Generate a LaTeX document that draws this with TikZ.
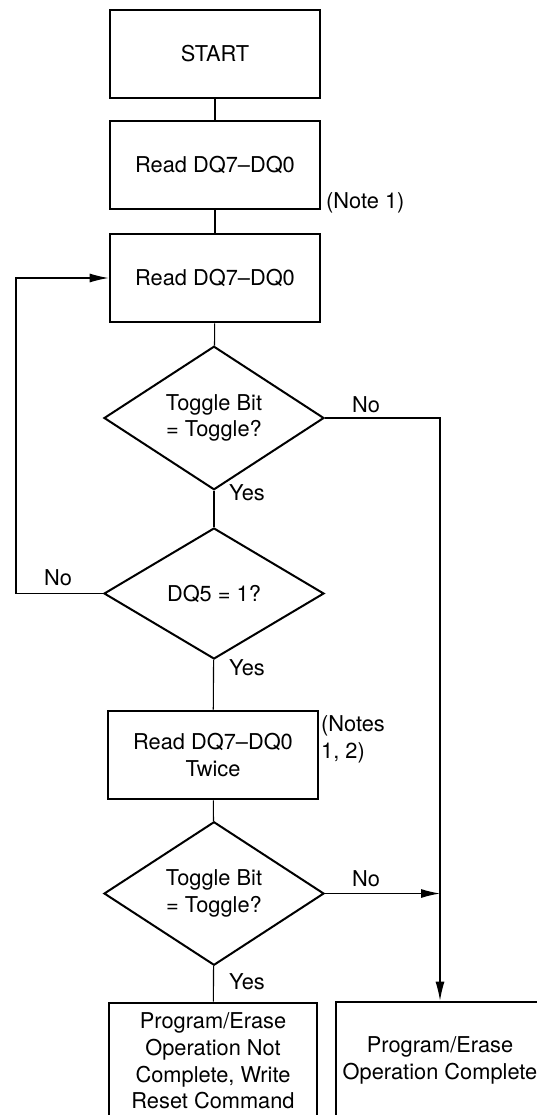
\documentclass[tikz,border=0pt]{standalone}
\usepackage{fontspec}
\setmainfont{TeX Gyre Heros}
\usetikzlibrary{shapes.geometric,arrows.meta}
\begin{document}
\begin{tikzpicture}[x=1pt,y=-1pt,
  font=\fontsize{21.8}{26.7}\selectfont,
  box/.style={draw,line width=2.8pt,minimum width=210pt,minimum height=88pt,inner sep=0pt,align=center},
  dec/.style={draw,diamond,line width=2pt,minimum width=220pt,minimum height=131pt,inner sep=0pt,align=center},
  conn/.style={line width=1.1pt},
  arr/.style={conn,-{Latex[length=19pt,width=9pt]}},
  lbl/.style={inner sep=0pt}]
\useasboundingbox (0,0) rectangle (536,1115);
\node[box] (start) at (215,54) {START};
\node[box] (r1) at (215,165) {Read DQ7--DQ0};
\node[box] (r2) at (215,278) {Read DQ7--DQ0};
\node[dec] (d1) at (214,418) {Toggle Bit\\= Toggle?};
\node[dec] (d2) at (214,593.5) {DQ5 = 1?};
\node[box] (r3) at (213,755) {Read DQ7--DQ0\\Twice};
\node[dec] (d3) at (214,893.5) {Toggle Bit\\= Toggle?};
\node[box,minimum width=208pt,minimum height=116pt] (notdone) at (213,1061) {Program/Erase\\Operation Not\\Complete, Write\\Reset Command};
\node[box,minimum width=208pt,minimum height=117pt] (done) at (440,1060.5) {Program/Erase\\Operation Complete};
\node[lbl,anchor=west] (n1) at (326,203) {(Note 1)};
\node[lbl,anchor=west,align=left] (n2) at (321,739.5) {(Notes\\1, 2)};
\node[lbl] (no1) at (366,405) {No};
\node[lbl] (no2) at (58,578) {No};
\node[lbl] (no3) at (366,879) {No};
\node[lbl,anchor=west] (y1) at (229,493) {Yes};
\node[lbl,anchor=west] (y2) at (229,668) {Yes};
\node[lbl,anchor=west] (y3) at (229,982) {Yes};
\coordinate (lp) at (16,593.5);
\draw[conn] (start) -- (r1);
\draw[conn] (r1) -- (r2);
\draw[conn] (r2) -- (d1);
\draw[conn] (d1) -- (d2);
\draw[conn] (d2) -- (r3);
\draw[conn] (r3) -- (d3);
\draw[conn] (d3) -- (notdone);
\draw[arr] (d2.west) -- (lp) |- (r2.west);
\draw[arr] (d1.east) -| (done.north);
\draw[arr] (d3.east) -- (d3.east -| done.north);
\end{tikzpicture}
\end{document}
